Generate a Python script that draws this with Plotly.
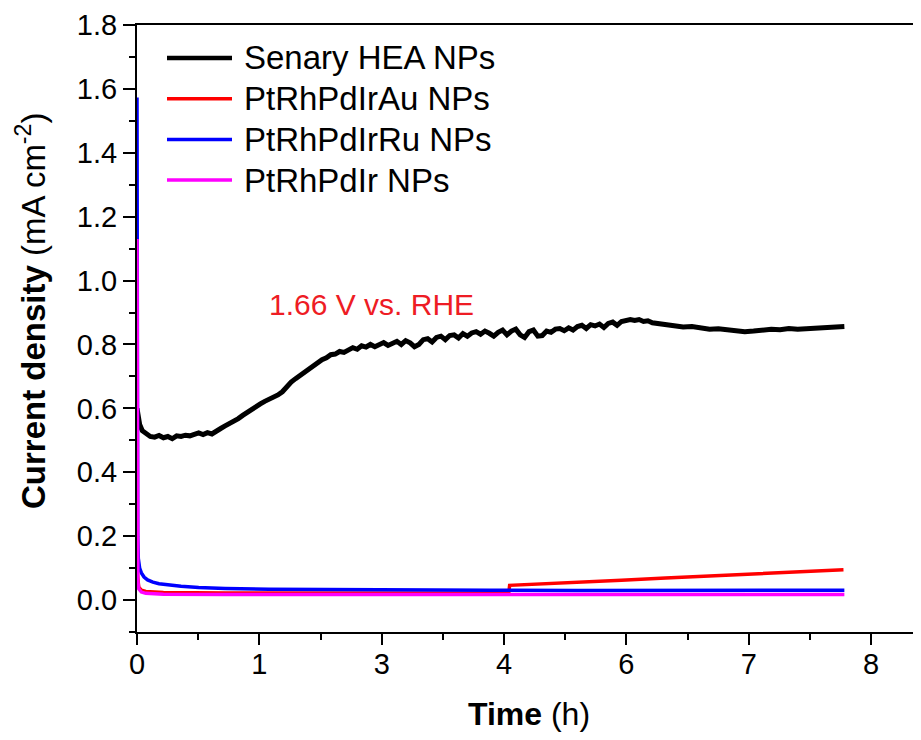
import plotly.graph_objects as go

# ---------------- data ----------------
series_names = ["Senary HEA NPs", "PtRhPdIrAu NPs", "PtRhPdIrRu NPs", "PtRhPdIr NPs"]
series_colors = ["#000000", "#FF0000", "#0000FF", "#FF00FF"]

time_senary = [0.0, 0.01, 0.03, 0.06, 0.1, 0.15, 0.2, 0.25, 0.3, 0.35, 0.4, 0.45, 0.5, 0.55, 0.6,
               0.65, 0.7, 0.75, 0.8, 0.85, 0.9, 0.95, 1.0, 1.05, 1.1, 1.15, 1.2, 1.25, 1.3, 1.35,
               1.4, 1.45, 1.5, 1.55, 1.6, 1.65, 1.7, 1.75, 1.8, 1.85, 1.9, 1.95, 2.0, 2.05, 2.1,
               2.15, 2.2, 2.25, 2.3, 2.35, 2.4, 2.45, 2.5, 2.55, 2.6, 2.65, 2.7, 2.75, 2.8, 2.85,
               2.9, 2.95, 3.0, 3.05, 3.1, 3.15, 3.2, 3.25, 3.3, 3.35, 3.4, 3.45, 3.5, 3.55, 3.6,
               3.65, 3.7, 3.75, 3.8, 3.85, 3.9, 3.95, 4.0, 4.05, 4.1, 4.15, 4.2, 4.25, 4.3, 4.35,
               4.4, 4.45, 4.5, 4.55, 4.6, 4.65, 4.7, 4.75, 4.8, 4.85, 4.9, 4.95, 5.0, 5.05, 5.1,
               5.15, 5.2, 5.25, 5.3, 5.35, 5.4, 5.45, 5.5, 5.55, 5.6, 5.65, 5.7, 5.75, 5.8, 5.85,
               5.9, 6.0, 6.1, 6.2, 6.3, 6.4, 6.5, 6.6, 6.7, 6.8, 6.9, 7.0, 7.1, 7.2, 7.3, 7.4,
               7.5, 7.6, 7.7, 7.8, 7.9, 8.0, 8.03]
current_senary = [0.60, 0.575, 0.55, 0.53, 0.52, 0.512, 0.51, 0.515, 0.508, 0.512, 0.505, 0.514,
                  0.512, 0.516, 0.514, 0.52, 0.523, 0.518, 0.524, 0.52, 0.53, 0.537, 0.545, 0.552,
                  0.56, 0.568, 0.578, 0.588, 0.598, 0.606, 0.614, 0.622, 0.628, 0.636, 0.642,
                  0.652, 0.668, 0.682, 0.693, 0.703, 0.715, 0.726, 0.735, 0.745, 0.752, 0.758,
                  0.768, 0.770, 0.778, 0.775, 0.782, 0.79, 0.785, 0.796, 0.792, 0.80, 0.793,
                  0.798, 0.806, 0.797, 0.803, 0.81, 0.80, 0.812, 0.805, 0.793, 0.80, 0.815,
                  0.818, 0.808, 0.822, 0.826, 0.815, 0.828, 0.83, 0.82, 0.834, 0.826, 0.836,
                  0.84, 0.832, 0.842, 0.835, 0.826, 0.838, 0.845, 0.83, 0.842, 0.848, 0.83,
                  0.822, 0.84, 0.845, 0.826, 0.828, 0.842, 0.838, 0.848, 0.85, 0.843, 0.852,
                  0.845, 0.856, 0.86, 0.85, 0.862, 0.858, 0.864, 0.853, 0.866, 0.87, 0.86,
                  0.872, 0.876, 0.878, 0.875, 0.878, 0.872, 0.874, 0.868, 0.866, 0.862, 0.858,
                  0.855, 0.856, 0.852, 0.848, 0.849, 0.846, 0.842, 0.84, 0.842, 0.844, 0.848,
                  0.846, 0.85, 0.848, 0.85, 0.852, 0.851, 0.855, 0.858, 0.856]

time_au = [0.0, 0.005, 0.02, 0.05, 0.1, 0.3, 1.0, 2.0, 3.0, 4.0, 4.22, 4.23, 4.6, 5.0, 5.5, 6.0,
           6.5, 7.0, 7.5, 8.02]
current_au = [0.30, 0.08, 0.04, 0.031, 0.027, 0.024, 0.022, 0.021, 0.021, 0.021, 0.021, 0.046,
              0.050, 0.056, 0.062, 0.069, 0.075, 0.082, 0.088, 0.095]

time_ru = [0.0, 0.003, 0.008, 0.015, 0.03, 0.05, 0.08, 0.12, 0.18, 0.25, 0.35, 0.5, 0.7, 1.0,
           1.5, 2.0, 3.0, 4.0, 5.0, 6.0, 7.0, 8.03]
current_ru = [1.573, 0.60, 0.20, 0.13, 0.10, 0.085, 0.072, 0.063, 0.056, 0.051, 0.047, 0.043,
              0.039, 0.036, 0.034, 0.033, 0.031, 0.031, 0.030, 0.030, 0.030, 0.031]

time_ir = [0.0, 0.003, 0.01, 0.02, 0.05, 0.1, 0.3, 1.0, 2.0, 4.0, 6.0, 8.03]
current_ir = [1.13, 0.30, 0.06, 0.035, 0.025, 0.021, 0.018, 0.017, 0.017, 0.017, 0.017, 0.017]

# x ticks: original axis ticks every 5000 s, labelled in hours (rounded)
x_tick_seconds = [0, 5000, 10000, 15000, 20000, 25000, 30000]
x_tick_labels = ["0", "1", "3", "4", "6", "7", "8"]
y_tick_values = [0.0, 0.2, 0.4, 0.6, 0.8, 1.0, 1.2, 1.4, 1.6, 1.8]
y_tick_labels = ["0.0", "0.2", "0.4", "0.6", "0.8", "1.0", "1.2", "1.4", "1.6", "1.8"]

annotation_text = "1.66 V vs. RHE"
x_title = "<b>Time</b> (h)"
y_title = "<b>Current density</b> (mA cm<sup>-2</sup>)"

# ---------------- figure ----------------
FONT = "Arial, 'Liberation Sans', sans-serif"
OFF = 8                      # page body margin in the browser
W, H = 921 - OFF, 740 - 2 * OFF
ML, MR, MT = 137 - OFF, 0, 25 - OFF
MB = H - (632 - OFF)
PW, PH = W - ML - MR, H - MT - MB

fig = go.Figure()

series = [(time_senary, current_senary, 5),
          (time_au, current_au, 3.5),
          (time_ru, current_ru, 3.5),
          (time_ir, current_ir, 3.5)]
for (t, c, w), name, col in zip(series, series_names, series_colors):
    fig.add_trace(go.Scatter(x=t, y=c, mode="lines", name=name, showlegend=False,
                             line=dict(color=col, width=w)))


# helpers: screen pixel -> paper coordinate
def px_x(px):
    return (px - OFF - ML) / PW


def px_y(py):
    return (H - MB - (py - OFF)) / PH


# legend (keys + labels)
for i, (name, col) in enumerate(zip(series_names, series_colors)):
    row_y = px_y(58 + i * 40.7)
    fig.add_shape(type="line", xref="paper", yref="paper",
                  x0=px_x(167), x1=px_x(232), y0=row_y, y1=row_y,
                  line=dict(color=col, width=4.5 if i == 0 else 3.5))
    fig.add_annotation(xref="paper", yref="paper", x=px_x(242), y=row_y,
                       xanchor="left", yanchor="middle", text=name, showarrow=False,
                       font=dict(family=FONT, size=33, color="black"))

fig.add_annotation(x=2.66, y=0.926, xref="x", yref="y", text=annotation_text,
                   showarrow=False, font=dict(family=FONT, size=30, color="#EE1C24"))

# y-axis title
fig.add_annotation(xref="paper", yref="paper", x=px_x(31), y=px_y(311),
                   xanchor="center", yanchor="middle", textangle=-90,
                   text=y_title, showarrow=False,
                   font=dict(family=FONT, size=33, color="black"))

x_tick_hours = [s / 3600 for s in x_tick_seconds]

fig.update_layout(
    width=W, height=H,
    margin=dict(l=ML, r=MR, t=MT, b=MB),
    paper_bgcolor="white", plot_bgcolor="white",
    font=dict(family=FONT, color="black"),
    showlegend=False,
)

fig.update_xaxes(
    range=[0, 8.9], automargin=False,
    tickmode="array", tickvals=x_tick_hours, ticktext=x_tick_labels,
    ticks="outside", ticklen=11, tickwidth=2, tickcolor="black",
    ticklabelstandoff=-6,
    minor=dict(tickmode="linear", tick0=0, dtick=2500 / 3600, ticks="outside",
               ticklen=6, tickwidth=2, tickcolor="black"),
    showline=True, linewidth=2, linecolor="black", mirror=True,
    showgrid=False, zeroline=False,
    tickfont=dict(family=FONT, size=29, color="black"),
    title=dict(text=x_title, font=dict(family=FONT, size=32, color="black"),
               standoff=26),
)

fig.update_yaxes(
    range=[-0.1, 1.8], automargin=False,
    tickmode="array", tickvals=y_tick_values, ticktext=y_tick_labels,
    ticks="outside", ticklen=12, tickwidth=2, tickcolor="black",
    minor=dict(tickmode="linear", tick0=0, dtick=0.1, ticks="outside",
               ticklen=6, tickwidth=2, tickcolor="black"),
    showline=True, linewidth=2, linecolor="black", mirror=False,
    showgrid=False, zeroline=False,
    tickfont=dict(family=FONT, size=29, color="black"),
)

fig.write_html("out.html")
